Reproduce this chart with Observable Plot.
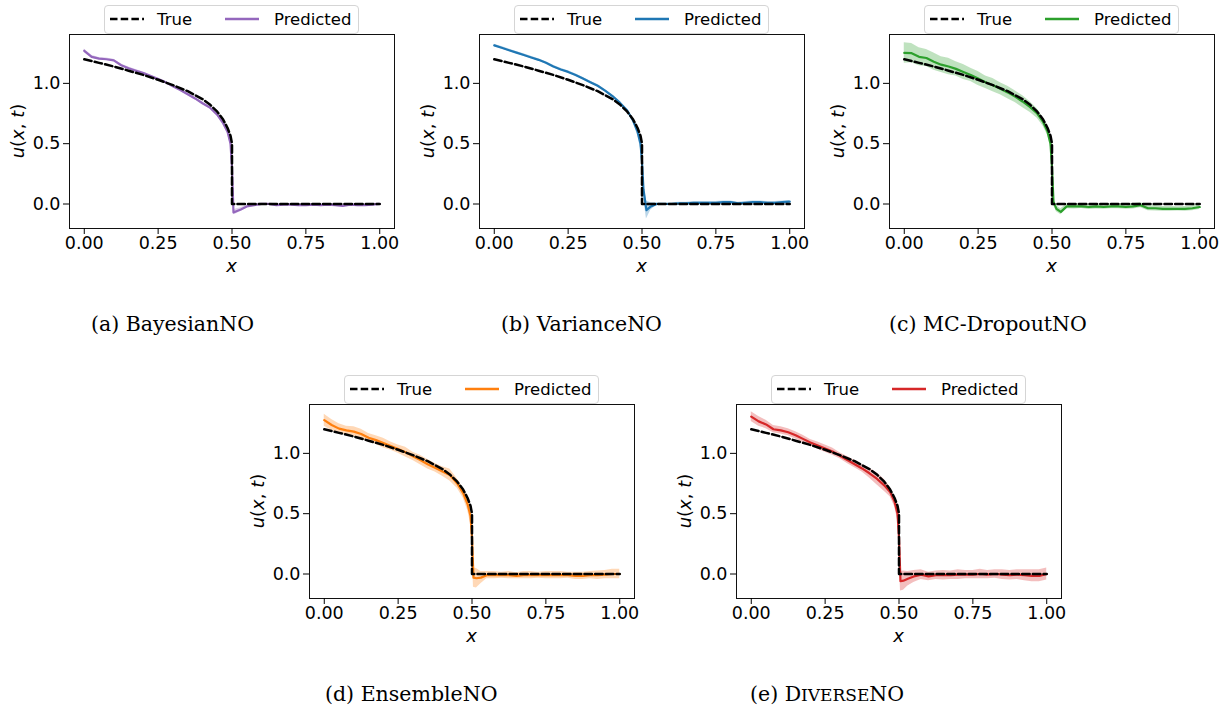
<!DOCTYPE html>
<html>
<head>
<meta charset="utf-8">
<script src="https://cdn.jsdelivr.net/npm/d3@7"></script>
<script src="https://cdn.jsdelivr.net/npm/@observablehq/plot@0.6"></script>
<style>
  html, body { margin: 0; padding: 0; background: #fff; }
  #fig { position: relative; width: 1229px; height: 715px; background: #fff; overflow: hidden; }
  .panel { position: absolute; width: 410px; height: 280px; }
  .panel svg.plot { position: absolute; left: 0; top: 0; }
  .panel svg.plot text { font-size: 17.5px !important; font-family: "DejaVu Sans", sans-serif !important; fill: #000; }
  .legend { position: absolute; box-sizing: border-box; width: 255px; height: 29px;
            border: 1px solid #d5d5d5; border-radius: 4px; background: rgba(255,255,255,0.8);
            font-family: "DejaVu Sans", sans-serif; font-size: 16.5px; color: #000; }
  .legend span { position: absolute; top: 50%; transform: translateY(-52%); white-space: nowrap; }
  .ylab, .xlab { position: absolute; font-family: "DejaVu Sans", sans-serif; font-size: 18px; white-space: nowrap; color: #000; }
  .ylab { transform: translate(-50%, -50%) rotate(-90deg); }
  .xlab { transform: translate(-50%, -50%); }
  .ylab i, .xlab i { font-style: oblique; }
  .cap { position: absolute; font-family: "DejaVu Serif", serif; font-size: 20.5px; white-space: nowrap;
         transform: translate(0, -50%); color: #000; }
  .sc { font-variant: small-caps; }
</style>
</head>
<body>
<div id="fig"></div>
<script>
// ---------------- data ----------------
const X = [0,0.025,0.05,0.075,0.1,0.125,0.15,0.175,0.2,0.225,0.25,0.275,0.3,0.325,0.35,0.375,0.4,0.425,0.45,
           0.47,0.485,0.495,0.5,0.505,0.515,0.53,
           0.55,0.575,0.6,0.625,0.65,0.675,0.7,0.725,0.75,0.775,0.8,0.825,0.85,0.875,0.9,0.925,0.95,0.975,1.0];

const trueX = [0,0.05,0.1,0.15,0.2,0.25,0.3,0.35,0.4,0.425,0.45,0.47,0.485,0.495,0.5,0.5,0.75,1.0];
const trueU = [1.2,1.17,1.14,1.105,1.07,1.03,0.985,0.935,0.87,0.825,0.765,0.7,0.63,0.565,0.5,0,0,0];

const bayesMean = [1.27,1.22,1.205,1.2,1.19,1.15,1.125,1.105,1.085,1.06,1.035,1.01,0.975,0.945,0.91,0.875,0.835,0.8,0.74,
                   0.67,0.6,0.5,0.3,-0.07,-0.06,-0.045,
                   -0.02,-0.01,0.0,0.0,-0.01,-0.005,-0.005,-0.01,-0.01,-0.005,-0.01,-0.005,-0.01,-0.015,-0.005,-0.01,-0.01,-0.005,0.0];
const bayesBand = [0.015,0.012,0.01,0.01,0.01,0.01,0.01,0.01,0.01,0.01,0.01,0.01,0.01,0.01,0.01,0.01,0.01,0.01,0.012,
                   0.015,0.02,0.02,0.02,0.02,0.02,0.015,
                   0.012,0.01,0.01,0.01,0.01,0.01,0.01,0.01,0.01,0.01,0.01,0.01,0.01,0.01,0.01,0.01,0.01,0.01,0.01];

const varMean = [1.315,1.295,1.275,1.255,1.235,1.215,1.195,1.17,1.14,1.115,1.095,1.07,1.04,1.01,0.98,0.94,0.895,0.84,0.775,
                 0.69,0.6,0.5,0.35,0.12,-0.05,-0.02,
                 0.0,0.0,0.0,0.005,0.005,0.01,0.01,0.01,0.01,0.015,0.015,0.005,0.01,0.015,0.015,0.01,0.01,0.015,0.02];
const varBand = [0.01,0.01,0.01,0.01,0.01,0.01,0.01,0.01,0.01,0.01,0.01,0.01,0.01,0.01,0.01,0.01,0.01,0.01,0.01,
                 0.015,0.03,0.04,0.05,0.06,0.075,0.03,
                 0.01,0.01,0.01,0.01,0.01,0.01,0.01,0.01,0.01,0.01,0.01,0.01,0.01,0.01,0.01,0.01,0.01,0.01,0.01];

const mcMean = [1.252,1.25,1.22,1.21,1.18,1.155,1.14,1.12,1.095,1.07,1.04,1.01,0.985,0.955,0.925,0.89,0.85,0.805,0.75,
                0.68,0.6,0.5,0.3,0.02,-0.04,-0.065,
                -0.02,-0.02,-0.02,-0.025,-0.02,-0.025,-0.02,-0.02,-0.025,-0.02,-0.01,-0.035,-0.035,-0.04,-0.04,-0.04,-0.04,-0.035,-0.025];
const mcBand = [0.085,0.08,0.075,0.07,0.072,0.065,0.068,0.06,0.062,0.055,0.058,0.052,0.055,0.05,0.052,0.048,0.05,0.045,0.04,
                0.035,0.03,0.03,0.03,0.03,0.025,0.025,
                0.02,0.022,0.018,0.02,0.022,0.018,0.02,0.02,0.018,0.022,0.02,0.02,0.022,0.02,0.02,0.018,0.02,0.02,0.02];

const ensMean = [1.275,1.235,1.205,1.19,1.18,1.16,1.13,1.11,1.085,1.06,1.035,1.01,0.975,0.945,0.91,0.88,0.85,0.82,0.75,
                 0.67,0.58,0.48,0.3,-0.03,-0.035,-0.03,
                 -0.01,-0.01,-0.01,-0.01,-0.015,-0.01,-0.01,-0.01,-0.01,-0.01,-0.01,-0.01,-0.015,-0.015,-0.01,-0.01,-0.005,0.0,0.0];
const ensBand = [0.05,0.045,0.04,0.035,0.04,0.04,0.035,0.035,0.04,0.035,0.035,0.04,0.035,0.04,0.04,0.035,0.04,0.05,0.04,
                 0.04,0.05,0.06,0.07,0.08,0.08,0.05,
                 0.03,0.03,0.025,0.03,0.025,0.03,0.03,0.025,0.03,0.03,0.03,0.025,0.03,0.03,0.03,0.035,0.035,0.04,0.04];

const divMean = [1.305,1.265,1.24,1.2,1.19,1.175,1.15,1.12,1.09,1.065,1.04,1.015,0.98,0.945,0.91,0.875,0.835,0.79,0.735,
                 0.68,0.6,0.5,0.3,-0.06,-0.055,-0.04,
                 -0.02,-0.005,-0.02,-0.01,-0.01,-0.01,-0.005,-0.005,-0.005,0.0,-0.005,0.0,-0.005,-0.01,-0.005,-0.01,-0.015,-0.015,0.0];
const divBand = [0.04,0.04,0.035,0.03,0.03,0.03,0.03,0.03,0.025,0.03,0.03,0.03,0.025,0.03,0.03,0.03,0.04,0.05,0.05,
                 0.04,0.04,0.05,0.06,0.08,0.08,0.06,
                 0.05,0.04,0.035,0.035,0.04,0.035,0.04,0.035,0.035,0.04,0.035,0.035,0.04,0.04,0.04,0.045,0.05,0.05,0.05];

const xTicks = [0, 0.25, 0.5, 0.75, 1.0];
const yTicks = [0, 0.5, 1.0];
const legendLabels = ["True", "Predicted"];

const panelNames = ["BayesianNO", "VarianceNO", "MC-DropoutNO", "EnsembleNO", "DiverseNO"];
const panelTags = ["(a)", "(b)", "(c)", "(d)", "(e)"];
const panelColors = ["#9467bd", "#1f77b4", "#2ca02c", "#ff7f0e", "#d62728"];
const panelMeans = [bayesMean, varMean, mcMean, ensMean, divMean];
const panelBands = [bayesBand, varBand, mcBand, ensBand, divBand];

// ---------------- layout ----------------
const frames = [[69, 34], [479, 34], [889, 34], [309, 404], [736, 404]];
const captionPos = [[91, 324], [501, 324], [889, 324], [325, 694], [750, 694]];

const FW = 325, FH = 194;
const ML = 69, MT = 34;
const PW = 410, PH = 280;

const fig = document.getElementById("fig");
const trueData = trueX.map((x, i) => ({x, u: trueU[i]}));

panelNames.forEach((name, k) => {
  const [fx, fy] = frames[k];
  const color = panelColors[k];
  const rows = X.map((x, i) => ({
    x, m: panelMeans[k][i],
    lo: panelMeans[k][i] - panelBands[k][i],
    hi: panelMeans[k][i] + panelBands[k][i]
  }));

  const panel = document.createElement("div");
  panel.className = "panel";
  panel.style.left = (fx - ML) + "px";
  panel.style.top = (fy - MT) + "px";

  const plot = Plot.plot({
    width: PW, height: PH,
    marginLeft: ML, marginTop: MT, marginRight: PW - ML - FW, marginBottom: PH - MT - FH,
    style: {fontFamily: "DejaVu Sans, sans-serif", fontSize: "17.5px", color: "#000", background: "transparent", overflow: "visible"},
    x: {domain: [-0.05, 1.05]},
    y: {domain: [-0.203, 1.405]},
    marks: [
      Plot.areaY(rows, {x: "x", y1: "lo", y2: "hi", fill: color, fillOpacity: 0.3, curve: "linear"}),
      Plot.line(rows, {x: "x", y: "m", stroke: color, strokeWidth: 2.2}),
      Plot.line(trueData, {x: "x", y: "u", stroke: "#000", strokeWidth: 2.5, strokeDasharray: "7.5,3.2"}),
      Plot.frame({stroke: "#111", strokeWidth: 1}),
      Plot.axisX({ticks: xTicks, tickFormat: d3.format(".2f"), tickSize: 6, tickPadding: 2, label: null}),
      Plot.axisY({ticks: yTicks, tickFormat: d3.format(".1f"), tickSize: 6, tickPadding: 3, label: null})
    ]
  });
  plot.classList.add("plot");
  panel.appendChild(plot);

  // legend
  const cx = ML + FW / 2;
  const leg = document.createElement("div");
  leg.className = "legend";
  leg.style.left = (cx - 127.5) + "px";
  leg.style.top = "5px";
  const ns = "http://www.w3.org/2000/svg";
  const lsvg = document.createElementNS(ns, "svg");
  lsvg.setAttribute("width", 253); lsvg.setAttribute("height", 27);
  lsvg.style.position = "absolute"; lsvg.style.left = "0"; lsvg.style.top = "0";
  const l1 = document.createElementNS(ns, "line");
  l1.setAttribute("x1", 5); l1.setAttribute("x2", 39); l1.setAttribute("y1", 13); l1.setAttribute("y2", 13);
  l1.setAttribute("stroke", "#000"); l1.setAttribute("stroke-width", 2.5); l1.setAttribute("stroke-dasharray", "7.5,3.2");
  const l2 = document.createElementNS(ns, "line");
  l2.setAttribute("x1", 120); l2.setAttribute("x2", 154); l2.setAttribute("y1", 13); l2.setAttribute("y2", 13);
  l2.setAttribute("stroke", color); l2.setAttribute("stroke-width", 2.5);
  lsvg.appendChild(l1); lsvg.appendChild(l2);
  leg.appendChild(lsvg);
  const t1 = document.createElement("span"); t1.textContent = legendLabels[0]; t1.style.left = "52px";
  const t2 = document.createElement("span"); t2.textContent = legendLabels[1]; t2.style.left = "169px";
  leg.appendChild(t1); leg.appendChild(t2);
  panel.appendChild(leg);

  // axis labels
  const yl = document.createElement("div");
  yl.className = "ylab";
  yl.innerHTML = "<i>u</i>(<i>x</i>, <i>t</i>)";
  yl.style.left = "17px"; yl.style.top = (MT + FH / 2) + "px";
  panel.appendChild(yl);
  const xl = document.createElement("div");
  xl.className = "xlab";
  xl.innerHTML = "<i>x</i>";
  xl.style.left = cx + "px"; xl.style.top = "265px";
  panel.appendChild(xl);

  fig.appendChild(panel);

  // caption
  const cap = document.createElement("div");
  cap.className = "cap";
  if (name === "DiverseNO") {
    cap.innerHTML = panelTags[k] + " D<span class=\"sc\" style=\"font-size:17px\">IVERSE</span>NO";
  } else {
    cap.textContent = panelTags[k] + " " + name;
  }
  cap.style.left = captionPos[k][0] + "px";
  cap.style.top = captionPos[k][1] + "px";
  fig.appendChild(cap);
});
</script>
</body>
</html>
